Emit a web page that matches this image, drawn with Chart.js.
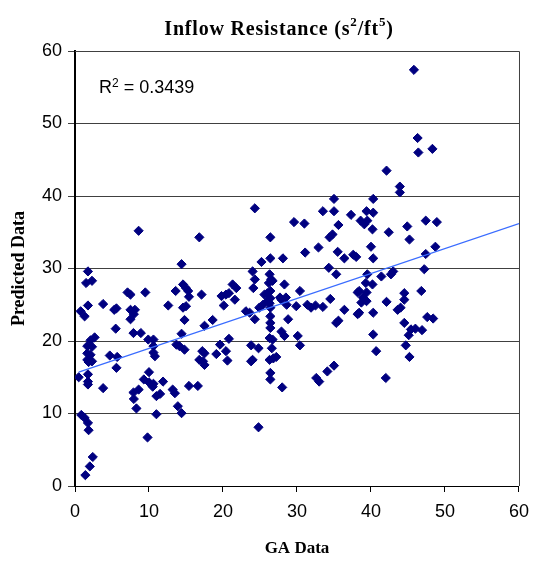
<!DOCTYPE html>
<html>
<head>
<meta charset="utf-8">
<script src="https://cdn.jsdelivr.net/npm/chart.js@4.4.1/dist/chart.umd.min.js"></script>
<style>
html,body{margin:0;padding:0;background:#fff;}
#wrap{width:538px;height:562px;position:relative;}
</style>
</head>
<body>
<div id="wrap"><canvas id="c" width="538" height="562"></canvas></div>
<script>
// ---- data ----
const gaData = [
  1.75,1.5,2.3,0.76,1.3,1.75,3.8,5.3,5.6,5.5,2.65,2.1,1.66,2.3,1.66,2.1,1.66,2.3,1.84,4.7,
  5.7,5.6,0.5,1.75,1.75,1.75,3.8,0.85,1.3,1.75,1.84,2.4,2.0,1.4,
  8.6,7.1,7.5,9.5,7.5,8.1,7.5,7.95,7.9,8.9,12.6,9.9,10.6,10.6,10.6,10.8,10.0,9.3,10.0,10.6,
  10.5,11.9,7.9,8.6,7.95,8.3,11.0,11.5,11.0,9.8,
  16.8,14.4,13.6,14.6,15.0,15.3,15.4,17.1,19.8,20.4,20.8,21.3,21.8,21.6,20.1,14.6,15.0,14.8,
  17.5,18.6,23.1,14.4,13.7,14.1,14.8,20.8,19.6,19.1,20.4,20.6,17.2,17.5,16.8,17.3,17.5,15.4,
  16.6,13.2,13.5,13.9,14.4,
  24.3,26.4,25.2,26.4,28.1,24.0,24.3,24.1,26.3,26.5,26.2,26.7,28.3,30.4,26.0,26.4,25.6,26.4,
  26.0,26.3,25.4,24.9,26.4,27.7,27.9,28.5,28.6,29.9,31.4,23.6,24.3,26.4,26.4,26.4,28.8,27.9,
  28.3,30.1,30.4,26.3,26.7,26.6,23.8,24.8,24.0,23.8,26.3,26.8,27.2,26.4,26.4,28.0,24.8,
  42.1,43.9,43.9,35.0,40.3,33.5,35.0,37.3,39.4,40.3,38.6,39.1,39.5,29.6,31.0,35.6,40.2,34.8,
  34.4,42.4,32.9,31.1,35.5,36.4,37.6,38.0,40.0,40.3,34.3,35.3,39.5,41.4,42.7,43.0,40.2,39.3,
  38.4,38.2,39.4,38.9,39.2,39.4,38.7,42.1,43.6,38.4,38.2,36.4,40.3,40.3,40.7,31.9,32.5,33.5,
  34.5,35.6,35.3,44.0,35.0,34.1,32.6,33.0,42.0,
  45.8,46.3,46.4,48.3,44.9,45.2,47.4,48.9,48.7,47.4,47.2,44.5,44.5,46.8,44.5,47.6,48.4,45.4,
  46.0,46.9,45.1,44.7,45.2
];
const predicted = [
  29.6,28.0,28.3,24.1,23.4,24.9,25.1,24.3,24.5,21.7,20.5,20.1,19.3,19.2,18.3,18.1,17.4,17.2,17.1,18.0,
  17.8,16.3,15.0,15.4,14.4,14.0,13.5,9.8,9.4,8.7,7.7,4.0,2.7,1.5,
  35.2,26.7,26.4,26.7,24.3,24.3,23.0,23.7,21.1,21.1,24.9,20.2,20.2,19.3,18.4,17.9,15.7,14.7,14.3,14.1,
  13.7,14.4,12.9,13.3,12.0,10.7,12.4,12.7,9.9,6.7,
  34.3,30.6,26.9,27.8,27.3,26.9,26.1,26.4,26.2,26.4,26.6,27.8,27.3,25.7,24.9,24.6,24.8,22.9,
  22.1,22.9,24.1,21.0,19.5,19.3,18.8,20.3,19.5,18.2,18.6,17.3,18.6,18.3,17.4,17.2,16.7,13.8,
  13.8,13.3,12.8,11.0,10.05,
  38.3,34.3,30.9,31.4,31.4,29.6,28.5,27.3,29.2,28.5,28.0,28.3,27.8,26.9,26.6,26.9,26.4,25.9,
  25.5,25.2,25.0,24.6,24.6,26.0,25.7,26.0,25.0,24.8,25.0,23.9,23.0,23.4,22.5,21.8,23.0,21.3,
  20.7,20.7,19.4,20.4,20.2,19.0,19.4,19.0,17.4,17.2,17.4,17.6,17.8,15.6,14.7,13.6,8.1,
  43.5,41.3,40.5,39.6,39.6,37.9,37.9,37.4,37.9,37.7,36.6,36.1,36.6,36.4,36.2,36.0,35.4,34.7,
  34.3,35.0,32.9,32.2,32.3,31.4,31.9,31.6,33.0,31.4,30.1,29.2,29.2,28.9,29.2,29.6,27.8,28.0,
  26.9,26.7,26.7,26.0,25.7,25.5,25.3,25.4,24.3,23.9,23.7,24.3,23.9,20.9,18.6,24.6,24.9,24.7,
  25.8,22.8,22.5,24.6,16.6,15.8,14.9,14.4,14.9,
  57.4,48.0,46.0,46.5,35.8,34.0,36.6,36.4,33.0,32.0,29.9,26.6,25.7,26.9,22.5,23.3,23.1,21.6,
  21.7,21.5,20.8,19.4,17.8
];
// linear trend line end points
const trendX = [0.5, 60];
const trendY = [15.7, 36.2];
// axes
const xMin = 0, xMax = 60, xStep = 10;
const yMin = 0, yMax = 60, yStep = 10;
const chartTitleParts = ['Inflow Resistance (s', '2', '/ft', '5', ')'];
const rSquaredParts = ['R', '2', ' = 0.3439'];
const xTitle = 'GA Data';
const yTitle = 'Predicted Data';

const points = gaData.map((x, i) => ({x: x, y: predicted[i]}));
const trend = trendX.map((x, i) => ({x: x, y: trendY[i]}));

const SANS = '"Liberation Sans", Arial, sans-serif';
const SERIF = '"Liberation Serif", "Times New Roman", serif';

const framePlugin = {
  id: 'frame',
  beforeDatasetsDraw(chart) {
    const {ctx, chartArea: a} = chart;
    ctx.save();
    ctx.strokeStyle = '#404040';
    ctx.lineWidth = 1;
    ctx.beginPath();
    ctx.moveTo(a.left, a.top + 0.5);
    ctx.lineTo(a.right + 0.5, a.top + 0.5);
    ctx.lineTo(a.right + 0.5, a.bottom);
    ctx.stroke();
    ctx.restore();
  }
};

function drawParts(ctx, parts, x, baseline, mainFont, supFont, supRise, spacing, align) {
  ctx.save();
  if ('letterSpacing' in ctx) ctx.letterSpacing = spacing;
  ctx.textBaseline = 'alphabetic';
  ctx.textAlign = 'left';
  const widths = parts.map((t, i) => {
    ctx.font = (i % 2 === 1) ? supFont : mainFont;
    return ctx.measureText(t).width;
  });
  const total = widths.reduce((s, w) => s + w, 0);
  let cx = align === 'center' ? x - total / 2 : x;
  parts.forEach((t, i) => {
    const sup = i % 2 === 1;
    ctx.font = sup ? supFont : mainFont;
    ctx.fillStyle = '#000';
    ctx.fillText(t, cx, sup ? baseline - supRise : baseline);
    cx += widths[i];
  });
  ctx.restore();
}

const textPlugin = {
  id: 'texts',
  afterDraw(chart) {
    const {ctx, chartArea: a} = chart;
    drawParts(ctx, chartTitleParts, 279, 35, 'bold 20px ' + SERIF, 'bold 13px ' + SERIF, 9, '0.8px', 'center');
    drawParts(ctx, rSquaredParts, a.left + 24, a.top + 42, '18px ' + SANS, '12px ' + SANS, 6.5, '0px', 'left');
  }
};

new Chart(document.getElementById('c'), {
  type: 'scatter',
  data: {
    datasets: [
      {
        label: 'Linear trend',
        data: trend,
        showLine: true,
        borderColor: '#3a6cff',
        borderWidth: 1.2,
        pointRadius: 0,
        fill: false
      },
      {
        label: 'Predicted',
        data: points,
        pointStyle: 'rectRot',
        pointRadius: 4.6,
        backgroundColor: '#000080',
        borderColor: '#000080',
        borderWidth: 1
      }
    ]
  },
  options: {
    responsive: false,
    animation: false,
    layout: {padding: {top: 51, right: 18, left: 0, bottom: 0}},
    plugins: {
      legend: {display: false},
      tooltip: {enabled: false},
      title: {display: false}
    },
    scales: {
      x: {
        type: 'linear',
        position: 'bottom',
        min: xMin, max: xMax,
        ticks: {stepSize: xStep, color: '#000', font: {family: SANS, size: 18}, padding: 9, maxRotation: 0},
        grid: {drawOnChartArea: false, drawTicks: true, tickLength: 6, color: '#000'},
        border: {display: true, color: '#000', width: 1},
        title: {display: true, text: xTitle, color: '#000', font: {family: SERIF, size: 17, weight: 'bold'}, padding: {top: 0, bottom: 3}},
        afterFit(s) { s.height = 76; }
      },
      y: {
        type: 'linear',
        position: 'left',
        min: yMin, max: yMax,
        ticks: {stepSize: yStep, color: '#000', font: {family: SANS, size: 18}, padding: 6},
        grid: {color: '#404040', drawTicks: true, tickLength: 7, lineWidth: 1},
        border: {display: true, color: '#000', width: 2},
        title: {display: true, text: yTitle, color: '#000', font: {family: SERIF, size: 18, weight: 'bold'}, padding: {top: 9, bottom: 0}},
        afterFit(s) { s.width = 75; }
      }
    }
  },
  plugins: [framePlugin, textPlugin]
});
</script>
</body>
</html>
